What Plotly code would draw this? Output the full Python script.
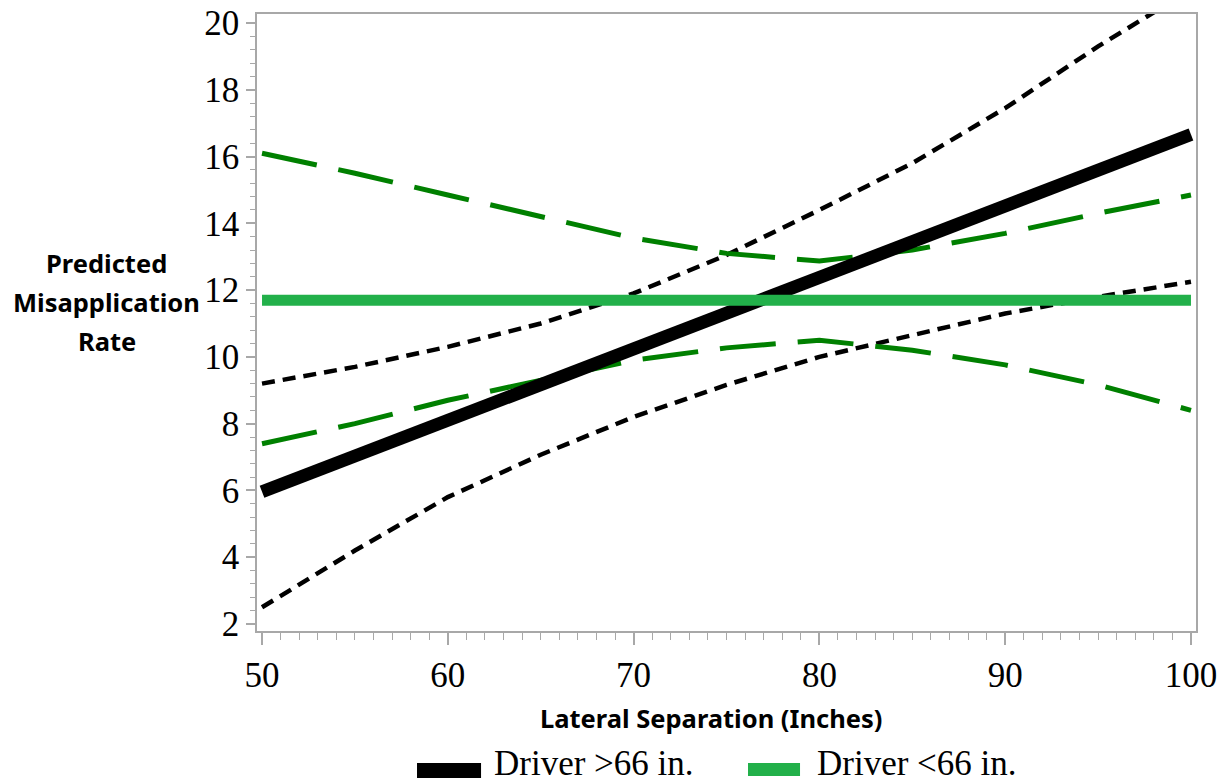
import plotly.graph_objects as go

# Data
x_pts = [50, 55, 60, 65, 70, 75, 80, 85, 90, 95, 100]
big_fit = [5.96, 7.03, 8.10, 9.17, 10.24, 11.31, 12.38, 13.45, 14.52, 15.59, 16.66]
big_upper = [9.2, 9.7, 10.3, 11.0, 11.9, 13.05, 14.4, 15.8, 17.45, 19.3, 21.0]
big_lower = [2.5, 4.2, 5.8, 7.07, 8.2, 9.16, 10.0, 10.66, 11.3, 11.8, 12.25]
small_fit = [11.7] * len(x_pts)
small_upper = [16.1, 15.5, 14.85, 14.2, 13.56, 13.1, 12.87, 13.2, 13.7, 14.3, 14.85]
small_lower = [7.4, 8.0, 8.7, 9.3, 9.9, 10.27, 10.5, 10.2, 9.76, 9.16, 8.4]

x_ticks = [50, 60, 70, 80, 90, 100]
y_ticks = [2, 4, 6, 8, 10, 12, 14, 16, 18, 20]
legend_names = ["Driver >66 in.", "Driver <66 in."]
y_title_lines = ["Predicted", "Misapplication", "Rate"]
x_title = "Lateral Separation (Inches)"

BLACK = "#000000"
GREEN_SOLID = "#22b04a"
GREEN_DASH = "#008000"
AXIS_GRAY = "#a8a8a8"

fig = go.Figure()
fig.add_trace(go.Scatter(x=x_pts, y=big_upper, mode="lines", showlegend=False,
                         line=dict(color=BLACK, width=4.5, dash="13px,8px")))
fig.add_trace(go.Scatter(x=x_pts, y=big_lower, mode="lines", showlegend=False,
                         line=dict(color=BLACK, width=4.5, dash="13px,8px")))
fig.add_trace(go.Scatter(x=x_pts, y=small_upper, mode="lines", showlegend=False,
                         line=dict(color=GREEN_DASH, width=5, dash="56px,22px")))
fig.add_trace(go.Scatter(x=x_pts, y=small_lower, mode="lines", showlegend=False,
                         line=dict(color=GREEN_DASH, width=5, dash="56px,22px")))
fig.add_trace(go.Scatter(x=x_pts, y=big_fit, mode="lines", name=legend_names[0],
                         showlegend=False, line=dict(color=BLACK, width=13)))
fig.add_trace(go.Scatter(x=x_pts, y=small_fit, mode="lines", name=legend_names[1],
                         showlegend=False, line=dict(color=GREEN_SOLID, width=11)))

axis_common = dict(
    showline=True, linecolor=AXIS_GRAY, linewidth=1.5, mirror=True,
    ticks="outside", tickcolor=AXIS_GRAY, tickwidth=1.5,
    showgrid=False, zeroline=False, automargin=False,
    tickfont=dict(family="Liberation Serif", size=35, color="#000"),
)

fig.update_xaxes(range=[49.73, 100.27], tickvals=x_ticks, ticklen=12,
                 minor=dict(dtick=1, tick0=50, ticks="outside", ticklen=7,
                            tickcolor=AXIS_GRAY, tickwidth=1.2),
                 **axis_common)
fig.update_yaxes(range=[1.79, 20.27], tickvals=y_ticks, ticklen=9,
                 minor=dict(dtick=0.4, tick0=2, ticks="outside", ticklen=5,
                            tickcolor=AXIS_GRAY, tickwidth=1.2),
                 **axis_common)

# Axis titles (placed in paper coordinates)
title_font = dict(family="Noto Sans", size=25.5, color="#000")
fig.add_annotation(text="<b>" + x_title + "</b>", xref="paper", yref="paper",
                   x=0.4835, y=-0.141, xanchor="center", yanchor="middle",
                   showarrow=False, font=title_font)
for i, line in enumerate(y_title_lines):
    fig.add_annotation(text="<b>" + line + "</b>", xref="paper", yref="paper",
                       x=-0.16, y=(631 - (263 + 39 * i)) / 617, xanchor="center",
                       yanchor="middle", showarrow=False, font=title_font)

# Legend (drawn manually at the bottom)
leg_font = dict(family="Liberation Serif", size=35, color="#000")
leg_items = [
    (legend_names[0], BLACK, 0.1704, 0.2386, -0.2383, -0.2139, 0.2503),
    (legend_names[1], GREEN_SOLID, 0.5229, 0.5783, -0.2350, -0.2139, 0.5943),
]
for name, col, x0, x1, y0, y1, tx in leg_items:
    fig.add_shape(type="rect", xref="paper", yref="paper", x0=x0, x1=x1, y0=y0, y1=y1,
                  fillcolor=col, line=dict(width=0))
    fig.add_annotation(text=name, xref="paper", yref="paper", x=tx, y=-0.2155,
                       xanchor="left", yanchor="middle", showarrow=False, font=leg_font)

fig.update_layout(
    width=1224, height=784,
    margin=dict(l=257, r=28, t=14, b=153, autoexpand=False),
    plot_bgcolor="white", paper_bgcolor="white",
    showlegend=False,
)

fig.write_html("out.html")
